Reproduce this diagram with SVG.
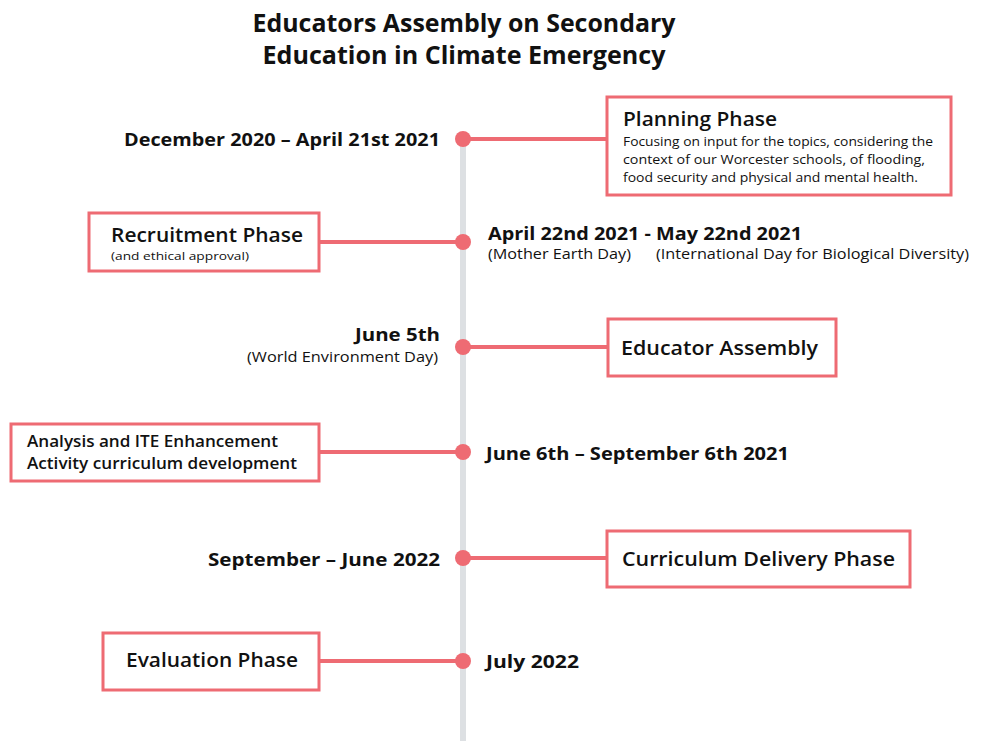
<svg xmlns="http://www.w3.org/2000/svg" width="984" height="741" viewBox="0 0 984 741">
<style>
.box{fill:#fff;stroke:#ee6b73;stroke-width:3}
.conn{stroke:#ee6b73;stroke-width:4;fill:none}
.dot{fill:#ee6b73}
.t{font-family:"Open Sans","Liberation Sans",Arial,sans-serif;fill:#111}
.title{font-size:25px;font-weight:bold;text-anchor:middle}
.date{font-size:18px;font-weight:bold}
.head{font-size:19.5px;font-weight:600}
.sub{font-size:13px}
.day{font-size:14px}
.small{font-size:11px}
.mid{font-size:15.5px;font-weight:600}
.r{text-anchor:end}
</style>
<rect width="984" height="741" fill="#fff"/>
<g id="title">
<text class="t title" x="464" y="32" textLength="423" lengthAdjust="spacingAndGlyphs">Educators Assembly on Secondary</text>
<text class="t title" x="464" y="64" textLength="403" lengthAdjust="spacingAndGlyphs">Education in Climate Emergency</text>
</g>
<g id="timeline"><rect x="460" y="139" width="6" height="602" fill="#dde0e3"/></g>
<g id="connectors">
<line class="conn" x1="463" y1="139" x2="607" y2="139"/>
<line class="conn" x1="319" y1="242" x2="463" y2="242"/>
<line class="conn" x1="463" y1="347" x2="608" y2="347"/>
<line class="conn" x1="319" y1="452" x2="463" y2="452"/>
<line class="conn" x1="463" y1="558" x2="607" y2="558"/>
<line class="conn" x1="319" y1="661" x2="463" y2="661"/>
<circle class="dot" cx="463" cy="139" r="8"/>
<circle class="dot" cx="463" cy="242" r="8"/>
<circle class="dot" cx="463" cy="347" r="8"/>
<circle class="dot" cx="463" cy="452" r="8"/>
<circle class="dot" cx="463" cy="558" r="8"/>
<circle class="dot" cx="463" cy="661" r="8"/>
</g>
<g id="n1">
<text class="t date r" x="440" y="146" textLength="316" lengthAdjust="spacingAndGlyphs">December 2020 – April 21st 2021</text>
<rect class="box" x="607" y="97" width="344" height="98"/>
<text class="t head" x="623" y="126" textLength="154" lengthAdjust="spacingAndGlyphs">Planning Phase</text>
<text class="t sub" x="623" y="146" textLength="310" lengthAdjust="spacingAndGlyphs">Focusing on input for the topics, considering the</text>
<text class="t sub" x="623" y="164" textLength="302" lengthAdjust="spacingAndGlyphs">context of our Worcester schools, of flooding,</text>
<text class="t sub" x="623" y="182" textLength="295" lengthAdjust="spacingAndGlyphs">food security and physical and mental health.</text>
</g>
<g id="n2">
<rect class="box" x="89" y="213" width="230" height="58"/>
<text class="t head" x="111" y="242" textLength="192" lengthAdjust="spacingAndGlyphs">Recruitment Phase</text>
<text class="t small" x="111" y="260" textLength="138" lengthAdjust="spacingAndGlyphs">(and ethical approval)</text>
<text class="t date" x="488" y="240" textLength="314" lengthAdjust="spacingAndGlyphs">April 22nd 2021 - May 22nd 2021</text>
<text class="t day" x="488" y="259" textLength="143" lengthAdjust="spacingAndGlyphs">(Mother Earth Day)</text>
<text class="t day" x="656" y="259" textLength="313" lengthAdjust="spacingAndGlyphs">(International Day for Biological Diversity)</text>
</g>
<g id="n3">
<text class="t date r" x="440" y="341" textLength="85" lengthAdjust="spacingAndGlyphs">June 5th</text>
<text class="t day r" x="438" y="362" textLength="191" lengthAdjust="spacingAndGlyphs">(World Environment Day)</text>
<rect class="box" x="608" y="319" width="228" height="57"/>
<text class="t head" x="621" y="355" textLength="197" lengthAdjust="spacingAndGlyphs">Educator Assembly</text>
</g>
<g id="n4">
<rect class="box" x="11" y="424" width="308" height="57"/>
<text class="t mid" x="27" y="447" textLength="251" lengthAdjust="spacingAndGlyphs">Analysis and ITE Enhancement</text>
<text class="t mid" x="27" y="469" textLength="270" lengthAdjust="spacingAndGlyphs">Activity curriculum development</text>
<text class="t date" x="486" y="460" textLength="303" lengthAdjust="spacingAndGlyphs">June 6th – September 6th 2021</text>
</g>
<g id="n5">
<text class="t date r" x="440" y="566" textLength="232" lengthAdjust="spacingAndGlyphs">September – June 2022</text>
<rect class="box" x="607" y="531" width="303" height="56"/>
<text class="t head" x="622" y="566" textLength="273" lengthAdjust="spacingAndGlyphs">Curriculum Delivery Phase</text>
</g>
<g id="n6">
<rect class="box" x="103" y="633" width="216" height="57"/>
<text class="t head" x="126" y="667" textLength="172" lengthAdjust="spacingAndGlyphs">Evaluation Phase</text>
<text class="t date" x="486" y="668" textLength="93" lengthAdjust="spacingAndGlyphs">July 2022</text>
</g>
</svg>
